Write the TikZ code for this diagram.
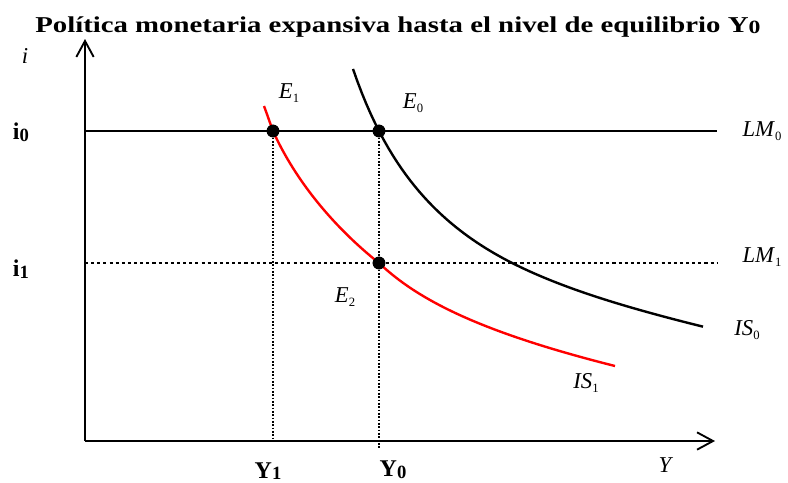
\documentclass[tikz,border=0pt]{standalone}
\usepackage{fontspec}
\setmainfont{Liberation Serif}
\usepackage{tikz}
\usetikzlibrary{arrows.meta}
\usepackage{xcolor}
\definecolor{curvered}{HTML}{FF0000}
\newcommand{\lab}[2]{\textit{#1}\raisebox{-0.45ex}{\fontsize{9.5}{9.5}\selectfont #2}}
\newcommand{\blab}[2]{\textbf{#1}\raisebox{-0.15ex}{\fontsize{14}{14}\selectfont\bfseries #2}}

\begin{document}
\begin{tikzpicture}[x=0.75pt,y=-0.75pt]
\tikzstyle{axis}=[line width=1.6pt,-{Straight Barb[length=12pt,width=13pt,line width=1.4pt]}]
\tikzstyle{eq}=[circle,fill=black,inner sep=0pt,minimum size=9.5pt]
\tikzstyle{lbl}=[inner sep=0pt,font=\fontsize{17}{17}\selectfont]
\tikzstyle{blbl}=[inner sep=0pt,font=\fontsize{18}{18}\selectfont]
\tikzstyle{guide}=[line width=1.1pt,dash pattern=on 1.4pt off 1.1pt]
\useasboundingbox (0,0) rectangle (788,482);
\node[anchor=base west,inner sep=0pt,font=\fontsize{17}{17}\selectfont\bfseries] (title) at (35,32) {\scalebox{1.27}[1]{Política monetaria expansiva hasta el nivel de equilibrio \blab{Y}{0}}};
% axes
\coordinate (O) at (85,441);
\coordinate (ytop) at (85,39);
\coordinate (xend) at (715,441);
\draw[axis] (O) -- (ytop);
\draw[axis] (O) -- (xend);
\node[lbl] (ilab) at (25,56) {\textit{i}};
\node[lbl] (ylab) at (666,465) {\textit{Y}};
% LM lines
\coordinate (lm0a) at (85,131);
\coordinate (lm0b) at (717,131);
\coordinate (lm1a) at (85,263);
\coordinate (lm1b) at (717,263);
\draw[line width=2.2pt] (lm0a) -- (lm0b);
\draw[line width=1.9pt,dash pattern=on 2.3pt off 2.3pt] (lm1a) -- (lm1b);
\node[lbl] (lm0) at (762,131) {\lab{LM}{0}};
\node[lbl] (lm1) at (762,257) {\lab{LM}{1}};
\node[blbl] (i0) at (21,132) {\blab{i}{0}};
\node[blbl] (i1) at (21,269) {\blab{i}{1}};
% equilibria
\node[eq] (e1) at (273,131) {};
\node[eq] (e0) at (379,131) {};
\node[eq] (e2) at (379,263) {};
% IS curves
\draw[line width=1.8pt] plot[domain=353:703,samples=80] (\x,{400.8-375/((\x-240)/100)+(\x>517)*0.0002*(\x-517)*(\x-517)});
\coordinate (is1top) at (264,106);
\coordinate (is1end) at (615,366);
\draw[curvered,line width=1.8pt] (is1top) .. controls (267,114) and (270,123) .. (e1.center)
  .. controls (296,182) and (335,228) .. (e2.center)
  .. controls (418,300) and (480,332) .. (is1end);
\node[eq] at (e1) {};
\node[eq] at (e0) {};
\node[eq] at (e2) {};
\node[lbl] (is0) at (747,330) {\lab{IS}{0}};
\node[lbl] (is1) at (586,383) {\lab{IS}{1}};
\coordinate (y1) at (273,441);
\coordinate (y0) at (379,448);
\draw[guide] (e1) -- (y1);
\draw[guide] (e0) -- (e2) -- (y0);
\node[lbl] (e1lab) at (289,93) {\lab{E}{1}};
\node[lbl] (e0lab) at (413,103) {\lab{E}{0}};
\node[lbl] (e2lab) at (345,297) {\lab{E}{2}};
\node[blbl] (y1lab) at (268,471) {\blab{Y}{1}};
\node[blbl] (y0lab) at (393,470) {\blab{Y}{0}};
\end{tikzpicture}
\end{document}
